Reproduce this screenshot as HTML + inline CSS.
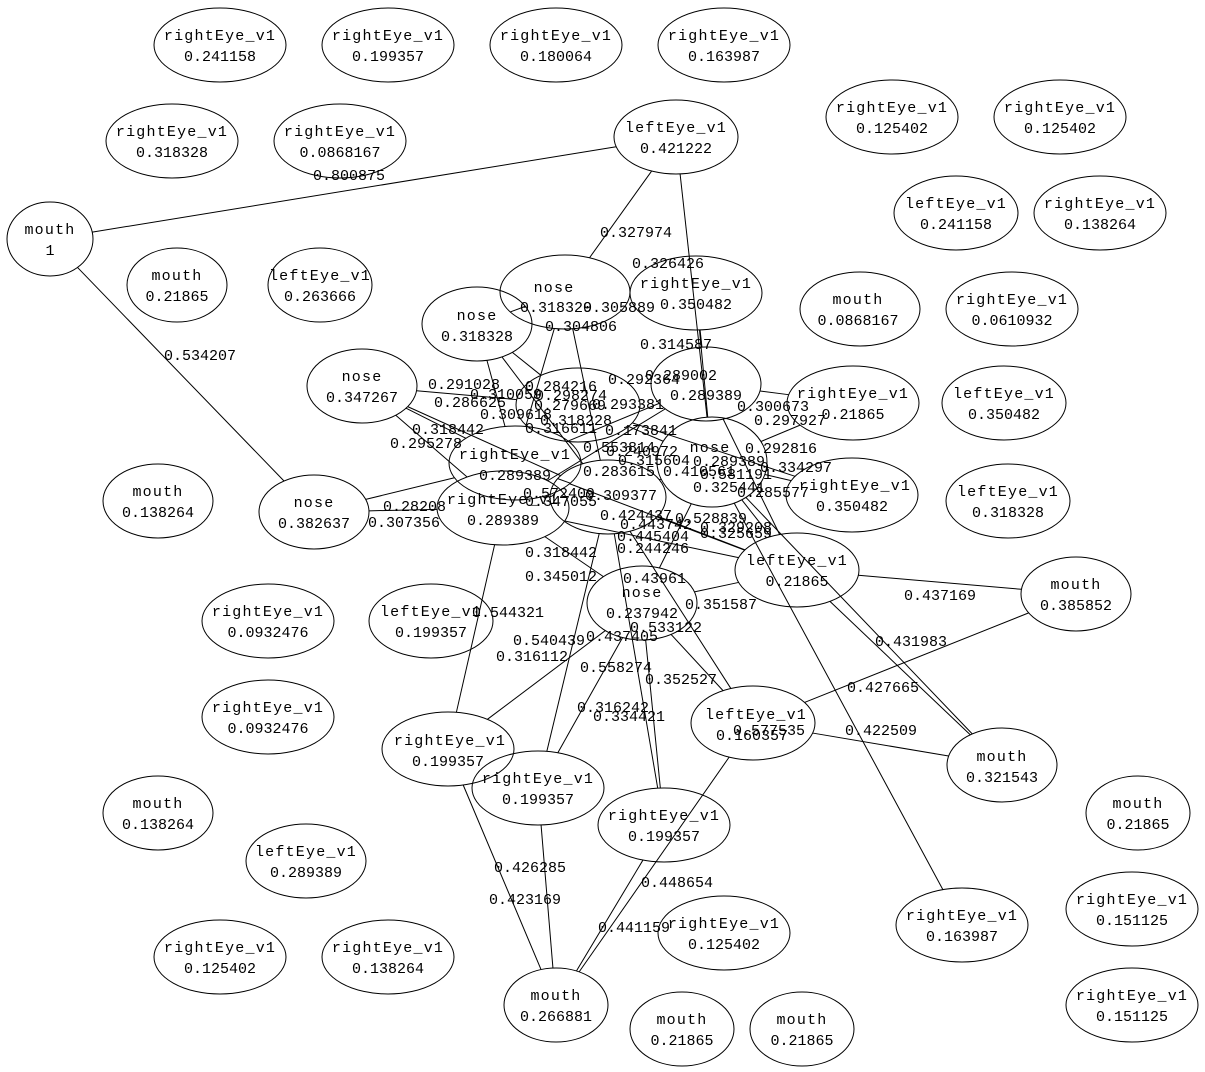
<!DOCTYPE html>
<html><head><meta charset="utf-8"><style>
body{margin:0;background:#fff}
svg{display:block}
text{font-family:"Liberation Mono",monospace;font-size:15px;fill:#000}
.n{letter-spacing:1.2px}
ellipse{fill:none;stroke:#000;stroke-width:1}
line{stroke:#000;stroke-width:1}
</style></head><body>
<svg id="s" width="1205" height="1072" viewBox="0 0 1205 1072">
<g id="edges"></g>
<g id="nodes">
<ellipse cx="220" cy="45" rx="66" ry="37"/><text class="n" x="220" y="40" text-anchor="middle">rightEye_v1</text><text x="220" y="61" text-anchor="middle">0.241158</text>
<ellipse cx="388" cy="45" rx="66" ry="37"/><text class="n" x="388" y="40" text-anchor="middle">rightEye_v1</text><text x="388" y="61" text-anchor="middle">0.199357</text>
<ellipse cx="556" cy="45" rx="66" ry="37"/><text class="n" x="556" y="40" text-anchor="middle">rightEye_v1</text><text x="556" y="61" text-anchor="middle">0.180064</text>
<ellipse cx="724" cy="45" rx="66" ry="37"/><text class="n" x="724" y="40" text-anchor="middle">rightEye_v1</text><text x="724" y="61" text-anchor="middle">0.163987</text>
<ellipse cx="892" cy="117" rx="66" ry="37"/><text class="n" x="892" y="112" text-anchor="middle">rightEye_v1</text><text x="892" y="133" text-anchor="middle">0.125402</text>
<ellipse cx="1060" cy="117" rx="66" ry="37"/><text class="n" x="1060" y="112" text-anchor="middle">rightEye_v1</text><text x="1060" y="133" text-anchor="middle">0.125402</text>
<ellipse cx="172" cy="141" rx="66" ry="37"/><text class="n" x="172" y="136" text-anchor="middle">rightEye_v1</text><text x="172" y="157" text-anchor="middle">0.318328</text>
<ellipse cx="340" cy="141" rx="66" ry="37"/><text class="n" x="340" y="136" text-anchor="middle">rightEye_v1</text><text x="340" y="157" text-anchor="middle">0.0868167</text>
<ellipse cx="676" cy="137" rx="62" ry="37"/><text class="n" x="676" y="132" text-anchor="middle">leftEye_v1</text><text x="676" y="153" text-anchor="middle">0.421222</text>
<ellipse cx="50" cy="239" rx="43" ry="37"/><text class="n" x="50" y="234" text-anchor="middle">mouth</text><text x="50" y="255" text-anchor="middle">1</text>
<ellipse cx="956" cy="213" rx="62" ry="37"/><text class="n" x="956" y="208" text-anchor="middle">leftEye_v1</text><text x="956" y="229" text-anchor="middle">0.241158</text>
<ellipse cx="1100" cy="213" rx="66" ry="37"/><text class="n" x="1100" y="208" text-anchor="middle">rightEye_v1</text><text x="1100" y="229" text-anchor="middle">0.138264</text>
<ellipse cx="177" cy="285" rx="50" ry="37"/><text class="n" x="177" y="280" text-anchor="middle">mouth</text><text x="177" y="301" text-anchor="middle">0.21865</text>
<ellipse cx="320" cy="285" rx="52" ry="37"/><text class="n" x="320" y="280" text-anchor="middle">leftEye_v1</text><text x="320" y="301" text-anchor="middle">0.263666</text>
<ellipse cx="565" cy="292" rx="65" ry="37"/><text class="n" x="554" y="292" text-anchor="middle">nose</text>
<ellipse cx="696" cy="293" rx="66" ry="37"/><text class="n" x="696" y="288" text-anchor="middle">rightEye_v1</text><text x="696" y="309" text-anchor="middle">0.350482</text>
<ellipse cx="477" cy="324" rx="55" ry="37"/><text class="n" x="477" y="320" text-anchor="middle">nose</text><text x="477" y="341" text-anchor="middle">0.318328</text>
<ellipse cx="860" cy="309" rx="60" ry="37"/><text class="n" x="858" y="304" text-anchor="middle">mouth</text><text x="858" y="325" text-anchor="middle">0.0868167</text>
<ellipse cx="1012" cy="309" rx="66" ry="37"/><text class="n" x="1012" y="304" text-anchor="middle">rightEye_v1</text><text x="1012" y="325" text-anchor="middle">0.0610932</text>
<ellipse cx="362" cy="386" rx="55" ry="37"/><text class="n" x="362" y="381" text-anchor="middle">nose</text><text x="362" y="402" text-anchor="middle">0.347267</text>
<ellipse cx="578" cy="405" rx="62" ry="37"/>
<ellipse cx="706" cy="384" rx="55" ry="37"/><text x="706" y="400" text-anchor="middle">0.289389</text>
<ellipse cx="853" cy="403" rx="66" ry="37"/><text class="n" x="853" y="398" text-anchor="middle">rightEye_v1</text><text x="853" y="419" text-anchor="middle">0.21865</text>
<ellipse cx="1004" cy="403" rx="62" ry="37"/><text class="n" x="1004" y="398" text-anchor="middle">leftEye_v1</text><text x="1004" y="419" text-anchor="middle">0.350482</text>
<ellipse cx="515" cy="463" rx="66" ry="37"/><text class="n" x="515" y="459" text-anchor="middle">rightEye_v1</text><text x="515" y="480" text-anchor="middle">0.289389</text>
<ellipse cx="712" cy="462" rx="55" ry="45"/><text class="n" x="710" y="452" text-anchor="middle">nose</text>
<ellipse cx="608" cy="497" rx="58" ry="37"/>
<ellipse cx="503" cy="508" rx="66" ry="37"/><text class="n" x="503" y="504" text-anchor="middle">rightEye_v1</text><text x="503" y="525" text-anchor="middle">0.289389</text>
<ellipse cx="158" cy="501" rx="55" ry="37"/><text class="n" x="158" y="496" text-anchor="middle">mouth</text><text x="158" y="517" text-anchor="middle">0.138264</text>
<ellipse cx="314" cy="512" rx="55" ry="37"/><text class="n" x="314" y="507" text-anchor="middle">nose</text><text x="314" y="528" text-anchor="middle">0.382637</text>
<ellipse cx="852" cy="495" rx="66" ry="37"/><text class="n" x="855" y="490" text-anchor="middle">rightEye_v1</text><text x="852" y="511" text-anchor="middle">0.350482</text>
<ellipse cx="1008" cy="501" rx="62" ry="37"/><text class="n" x="1008" y="496" text-anchor="middle">leftEye_v1</text><text x="1008" y="517" text-anchor="middle">0.318328</text>
<ellipse cx="797" cy="570" rx="62" ry="37"/><text class="n" x="797" y="565" text-anchor="middle">leftEye_v1</text><text x="797" y="586" text-anchor="middle">0.21865</text>
<ellipse cx="1076" cy="594" rx="55" ry="37"/><text class="n" x="1076" y="589" text-anchor="middle">mouth</text><text x="1076" y="610" text-anchor="middle">0.385852</text>
<ellipse cx="642" cy="603" rx="55" ry="37"/><text class="n" x="642" y="597" text-anchor="middle">nose</text><text x="642" y="618" text-anchor="middle">0.237942</text>
<ellipse cx="268" cy="621" rx="66" ry="37"/><text class="n" x="268" y="616" text-anchor="middle">rightEye_v1</text><text x="268" y="637" text-anchor="middle">0.0932476</text>
<ellipse cx="431" cy="621" rx="62" ry="37"/><text class="n" x="431" y="616" text-anchor="middle">leftEye_v1</text><text x="431" y="637" text-anchor="middle">0.199357</text>
<ellipse cx="268" cy="717" rx="66" ry="37"/><text class="n" x="268" y="712" text-anchor="middle">rightEye_v1</text><text x="268" y="733" text-anchor="middle">0.0932476</text>
<ellipse cx="753" cy="723" rx="62" ry="37"/><text class="n" x="756" y="719" text-anchor="middle">leftEye_v1</text><text x="752" y="740" text-anchor="middle">0.160357</text>
<ellipse cx="1002" cy="765" rx="55" ry="37"/><text class="n" x="1002" y="761" text-anchor="middle">mouth</text><text x="1002" y="782" text-anchor="middle">0.321543</text>
<ellipse cx="448" cy="749" rx="66" ry="37"/><text class="n" x="450" y="745" text-anchor="middle">rightEye_v1</text><text x="448" y="766" text-anchor="middle">0.199357</text>
<ellipse cx="538" cy="788" rx="66" ry="37"/><text class="n" x="538" y="783" text-anchor="middle">rightEye_v1</text><text x="538" y="804" text-anchor="middle">0.199357</text>
<ellipse cx="158" cy="813" rx="55" ry="37"/><text class="n" x="158" y="808" text-anchor="middle">mouth</text><text x="158" y="829" text-anchor="middle">0.138264</text>
<ellipse cx="1138" cy="813" rx="52" ry="37"/><text class="n" x="1138" y="808" text-anchor="middle">mouth</text><text x="1138" y="829" text-anchor="middle">0.21865</text>
<ellipse cx="306" cy="861" rx="60" ry="37"/><text class="n" x="306" y="856" text-anchor="middle">leftEye_v1</text><text x="306" y="877" text-anchor="middle">0.289389</text>
<ellipse cx="664" cy="825" rx="66" ry="37"/><text class="n" x="664" y="820" text-anchor="middle">rightEye_v1</text><text x="664" y="841" text-anchor="middle">0.199357</text>
<ellipse cx="962" cy="925" rx="66" ry="37"/><text class="n" x="962" y="920" text-anchor="middle">rightEye_v1</text><text x="962" y="941" text-anchor="middle">0.163987</text>
<ellipse cx="1132" cy="909" rx="66" ry="37"/><text class="n" x="1132" y="904" text-anchor="middle">rightEye_v1</text><text x="1132" y="925" text-anchor="middle">0.151125</text>
<ellipse cx="724" cy="933" rx="66" ry="37"/><text class="n" x="724" y="928" text-anchor="middle">rightEye_v1</text><text x="724" y="949" text-anchor="middle">0.125402</text>
<ellipse cx="220" cy="957" rx="66" ry="37"/><text class="n" x="220" y="952" text-anchor="middle">rightEye_v1</text><text x="220" y="973" text-anchor="middle">0.125402</text>
<ellipse cx="388" cy="957" rx="66" ry="37"/><text class="n" x="388" y="952" text-anchor="middle">rightEye_v1</text><text x="388" y="973" text-anchor="middle">0.138264</text>
<ellipse cx="556" cy="1005" rx="52" ry="37"/><text class="n" x="556" y="1000" text-anchor="middle">mouth</text><text x="556" y="1021" text-anchor="middle">0.266881</text>
<ellipse cx="682" cy="1029" rx="52" ry="37"/><text class="n" x="682" y="1024" text-anchor="middle">mouth</text><text x="682" y="1045" text-anchor="middle">0.21865</text>
<ellipse cx="802" cy="1029" rx="52" ry="37"/><text class="n" x="802" y="1024" text-anchor="middle">mouth</text><text x="802" y="1045" text-anchor="middle">0.21865</text>
<ellipse cx="1132" cy="1005" rx="66" ry="37"/><text class="n" x="1132" y="1000" text-anchor="middle">rightEye_v1</text><text x="1132" y="1021" text-anchor="middle">0.151125</text>
</g>
<g id="labels">
<text x="313" y="180">0.800875</text>
<text x="600" y="237">0.327974</text>
<text x="632" y="268">0.326426</text>
<text x="164" y="360">0.534207</text>
<text x="520" y="312">0.318329</text>
<text x="583" y="312">0.305889</text>
<text x="545" y="331">0.304806</text>
<text x="640" y="349">0.314587</text>
<text x="428" y="389">0.291028</text>
<text x="525" y="391">0.284216</text>
<text x="608" y="384">0.292364</text>
<text x="645" y="380">0.289002</text>
<text x="434" y="407">0.286625</text>
<text x="470" y="399">0.310059</text>
<text x="535" y="400">0.298274</text>
<text x="534" y="410">0.279669</text>
<text x="592" y="409">0.293381</text>
<text x="480" y="419">0.309618</text>
<text x="540" y="425">0.318228</text>
<text x="525" y="433">0.316611</text>
<text x="605" y="435">0.173841</text>
<text x="412" y="434">0.318442</text>
<text x="390" y="448">0.295278</text>
<text x="737" y="411">0.300673</text>
<text x="754" y="425">0.297927</text>
<text x="745" y="453">0.292816</text>
<text x="760" y="472">0.334297</text>
<text x="737" y="497">0.285577</text>
<text x="693" y="492">0.325441</text>
<text x="583" y="452">0.553814</text>
<text x="606" y="456">0.240972</text>
<text x="618" y="465">0.315604</text>
<text x="583" y="476">0.283615</text>
<text x="663" y="476">0.410561</text>
<text x="693" y="466">0.289389</text>
<text x="700" y="479">0.581191</text>
<text x="523" y="498">0.572409</text>
<text x="525" y="506">0.347055</text>
<text x="585" y="500">0.309377</text>
<text x="600" y="520">0.424437</text>
<text x="620" y="529">0.443742</text>
<text x="675" y="523">0.528839</text>
<text x="700" y="532">0.329208</text>
<text x="700" y="538">0.325659</text>
<text x="617" y="541">0.445404</text>
<text x="617" y="553">0.244246</text>
<text x="525" y="557">0.318442</text>
<text x="525" y="581">0.345012</text>
<text x="623" y="583">0.43961</text>
<text x="685" y="609">0.351587</text>
<text x="472" y="617">0.544321</text>
<text x="630" y="632">0.533122</text>
<text x="513" y="645">0.540439</text>
<text x="586" y="641">0.437405</text>
<text x="496" y="661">0.316112</text>
<text x="580" y="672">0.558274</text>
<text x="645" y="684">0.352527</text>
<text x="577" y="712">0.316242</text>
<text x="593" y="721">0.334421</text>
<text x="733" y="735">0.577535</text>
<text x="383" y="511">0.28208</text>
<text x="368" y="527">0.307356</text>
<text x="904" y="600">0.437169</text>
<text x="875" y="646">0.431983</text>
<text x="847" y="692">0.427665</text>
<text x="845" y="735">0.422509</text>
<text x="494" y="872">0.426285</text>
<text x="489" y="904">0.423169</text>
<text x="641" y="887">0.448654</text>
<text x="598" y="932">0.441159</text>
</g>
</svg>
<script>
(function(){
var N={A:[50,239,43,37],B:[676,137,62,37],C:[565,292,65,37],D:[696,293,66,37],E:[477,324,55,37],F:[362,386,55,37],G:[706,384,55,37],H:[578,405,62,37],I:[515,463,66,37],J:[503,508,66,37],K:[608,497,58,37],L:[712,462,55,45],M:[314,512,55,37],Nn:[853,403,66,37],O:[852,495,66,37],P:[797,570,62,37],Q:[642,603,55,37],R:[753,723,62,37],S:[1076,594,55,37],T:[1002,765,55,37],U:[448,749,66,37],V:[538,788,66,37],W:[664,825,66,37],X:[556,1005,52,37],Y:[962,925,66,37]};
var E="A-B A-M B-C B-L C-D C-E C-I C-K E-I E-H E-K F-H F-I F-J F-K M-I M-J G-D G-Nn G-I G-J G-P D-L H-L H-O I-P I-K J-P J-Q K-P K-L L-P L-O L-Nn L-T L-Q Q-P Q-R Q-U Q-V Q-W J-U K-V K-W K-R Y-L P-S P-T S-R R-T R-X W-X U-X V-X".split(" ");
function edge(a,b){var dx=b[0]-a[0],dy=b[1]-a[1];var t=1/Math.sqrt(dx*dx/(a[2]*a[2])+dy*dy/(a[3]*a[3]));return [a[0]+dx*t,a[1]+dy*t];}
var g=document.getElementById("edges");
E.forEach(function(e){var p=e.split("-"),a=N[p[0]],b=N[p[1]];var s=edge(a,b),t=edge(b,a);
var l=document.createElementNS("http://www.w3.org/2000/svg","line");
l.setAttribute("x1",s[0]);l.setAttribute("y1",s[1]);l.setAttribute("x2",t[0]);l.setAttribute("y2",t[1]);g.appendChild(l);});
})();
</script>
</body></html>
